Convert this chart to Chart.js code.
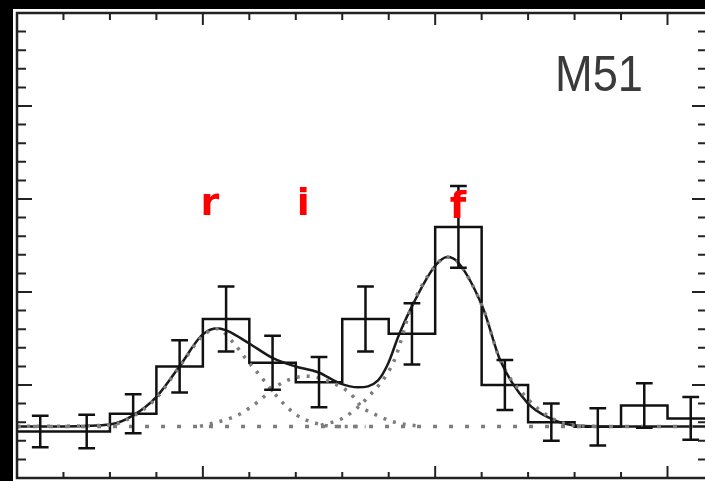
<!DOCTYPE html>
<html>
<head>
<meta charset="utf-8">
<script src="https://cdn.jsdelivr.net/npm/chart.js@4.4.1/dist/chart.umd.min.js"></script>
<style>
  html, body { margin: 0; padding: 0; background: #000; overflow: hidden; }
  #wrap { position: absolute; left: 0; top: 0; width: 713px; height: 481px; }
</style>
</head>
<body>
<div id="wrap"><canvas id="chart"></canvas></div>
<script>
// histogram: 15 bins, bin k spans [k, k+1]
const binValues = [0.50, 0.50, 0.69, 1.20, 1.71, 1.24, 1.03, 1.71, 1.55, 2.70, 1.00, 0.60, 0.55, 0.78, 0.64];
const binErrors = [0.17, 0.18, 0.21, 0.28, 0.35, 0.29, 0.27, 0.35, 0.33, 0.44, 0.27, 0.20, 0.20, 0.24, 0.23];

// total fit
const fitX = [0, 0.99, 2.02, 2.50, 2.99, 3.51, 3.98, 4.31, 4.54, 4.99, 5.51, 5.98, 6.48, 6.95, 7.34, 7.77, 7.99, 8.20, 8.46, 8.98, 9.26, 9.49, 10.03, 10.40, 10.98, 11.48, 11.97, 12.55, 14.85];
const fitY = [0.555, 0.555, 0.577, 0.673, 0.867, 1.21, 1.536, 1.611, 1.579, 1.449, 1.288, 1.202, 1.137, 1.018, 0.975, 1.05, 1.234, 1.514, 1.805, 2.268, 2.376, 2.32, 1.826, 1.266, 0.81, 0.64, 0.566, 0.555, 0.555];

// components
const rX = [0, 2.0, 2.5, 3.0, 3.5, 4.0, 4.31, 4.65, 4.95, 5.19, 5.71, 6.03, 6.37, 6.84, 7.5];
const rY = [0.555, 0.57, 0.665, 0.86, 1.2, 1.53, 1.605, 1.46, 1.266, 1.126, 0.813, 0.673, 0.598, 0.555, 0.555];
const iX = [3.94, 4.74, 5.08, 5.73, 6.24, 6.76, 7.17, 7.43, 7.75, 8.14, 8.68];
const iY = [0.555, 0.673, 0.78, 1.03, 1.094, 1.03, 0.91, 0.76, 0.673, 0.598, 0.555];
const fX = [6.54, 7.04, 7.53, 8.12, 8.48, 8.98, 9.26, 9.49, 10.03, 10.40, 10.98, 11.48, 11.97, 12.55];
const fY = [0.566, 0.652, 0.857, 1.266, 1.826, 2.268, 2.376, 2.32, 1.826, 1.266, 0.857, 0.652, 0.566, 0.555];
const baseline = 0.555;

const xMax = 14.85;
const xMajor = [4, 9, 14];
const peakLabels = ["r", "i", "f"];
const peakLabelX = [4.15, 6.16, 9.49];
const peakLabelY = [2.83, 2.83, 2.80];
const title = "M51";

const pts = (xs, ys) => xs.map((x, i) => ({ x: x, y: ys[i] }));

const histPts = binValues.map((v, k) => ({ x: k, y: v }));
histPts.push({ x: binValues.length, y: binValues[binValues.length - 1] });

const dotted = {
    borderColor: '#7d7d7d',
    borderWidth: 3.5,
    borderDash: [3, 7],
    pointRadius: 0,
    tension: 0.4,
    cubicInterpolationMode: 'monotone',
    fill: false
};

const bgPlugin = {
    id: 'bg',
    beforeDraw(chart) {
        const ctx = chart.ctx;
        ctx.save();
        ctx.fillStyle = '#000';
        ctx.fillRect(0, 0, chart.width, chart.height);
        ctx.fillStyle = '#fff';
        ctx.fillRect(13, 9, chart.width, chart.height);
        ctx.restore();
    }
};

const errorBars = {
    id: 'errorBars',
    afterDatasetsDraw(chart) {
        const { ctx, scales: { x, y } } = chart;
        ctx.save();
        ctx.strokeStyle = '#111';
        ctx.lineWidth = 2.5;
        binValues.forEach((v, k) => {
            const cx = x.getPixelForValue(k + 0.5);
            const top = y.getPixelForValue(v + binErrors[k]);
            const bot = y.getPixelForValue(v - binErrors[k]);
            const cap = x.getPixelForValue(k + 0.68) - cx;
            ctx.beginPath();
            ctx.moveTo(cx, top); ctx.lineTo(cx, bot);
            ctx.moveTo(cx - cap, top); ctx.lineTo(cx + cap, top);
            ctx.moveTo(cx - cap, bot); ctx.lineTo(cx + cap, bot);
            ctx.stroke();
        });
        ctx.restore();
    }
};

const frameTicks = {
    id: 'frameTicks',
    afterDraw(chart) {
        const { ctx, chartArea: a, scales: { x, y } } = chart;
        ctx.save();
        ctx.strokeStyle = '#222';
        ctx.lineWidth = 2.5;
        ctx.strokeRect(a.left, a.top, a.right - a.left, a.bottom - a.top);
        ctx.lineWidth = 2;
        ctx.beginPath();
        for (let i = 0; i <= 15; i++) {
            const px = x.getPixelForValue(i);
            const major = xMajor.includes(i);
            ctx.moveTo(px, a.bottom); ctx.lineTo(px, a.bottom - (major ? 12 : 6));
            ctx.moveTo(px, a.top); ctx.lineTo(px, a.top + (major ? 12 : 7));
        }
        for (let k = 0; k <= 25; k++) {
            const py = y.getPixelForValue(k * 0.2);
            const major = k % 5 === 0;
            ctx.moveTo(a.left, py); ctx.lineTo(a.left + (major ? 15 : 9), py);
            ctx.moveTo(a.right, py); ctx.lineTo(a.right - (major ? 15 : 9), py);
        }
        ctx.stroke();

        // peak labels
        ctx.fillStyle = '#ff0000';
        ctx.font = 'bold 38px "DejaVu Sans"';
        ctx.textAlign = 'center';
        ctx.textBaseline = 'alphabetic';
        peakLabels.forEach((t, i) => {
            ctx.fillText(t, x.getPixelForValue(peakLabelX[i]), y.getPixelForValue(peakLabelY[i]));
        });

        // object name
        ctx.fillStyle = '#3a3a3a';
        ctx.font = '50px "Liberation Sans"';
        ctx.textAlign = 'left';
        const w = ctx.measureText(title).width;
        ctx.translate(555, 91);
        ctx.scale(88 / w, 1);
        ctx.fillText(title, 0, 0);
        ctx.restore();
    }
};

new Chart(document.getElementById('chart'), {
    type: 'line',
    data: {
        datasets: [
            Object.assign({}, dotted, { data: [{ x: 0, y: baseline }, { x: xMax, y: baseline }], borderDash: [4, 12] }),
            Object.assign({}, dotted, { data: pts(rX, rY) }),
            Object.assign({}, dotted, { data: pts(iX, iY) }),
            Object.assign({}, dotted, { data: pts(fX, fY) }),
            {
                data: pts(fitX, fitY),
                borderColor: '#1a1a1a',
                borderWidth: 2.5,
                pointRadius: 0,
                tension: 0.4,
                cubicInterpolationMode: 'monotone'
            },
            {
                data: histPts,
                stepped: 'before',
                borderColor: '#111',
                borderWidth: 2.5,
                pointRadius: 0
            }
        ]
    },
    options: {
        responsive: true,
        maintainAspectRatio: false,
        animation: false,
        layout: { padding: { left: 17, top: 13, right: 6, bottom: 3 } },
        scales: {
            x: { type: 'linear', min: 0, max: xMax, display: false },
            y: { min: 0, max: 5, display: false }
        },
        plugins: {
            legend: { display: false },
            tooltip: { enabled: false }
        }
    },
    plugins: [bgPlugin, errorBars, frameTicks]
});
</script>
</body>
</html>
